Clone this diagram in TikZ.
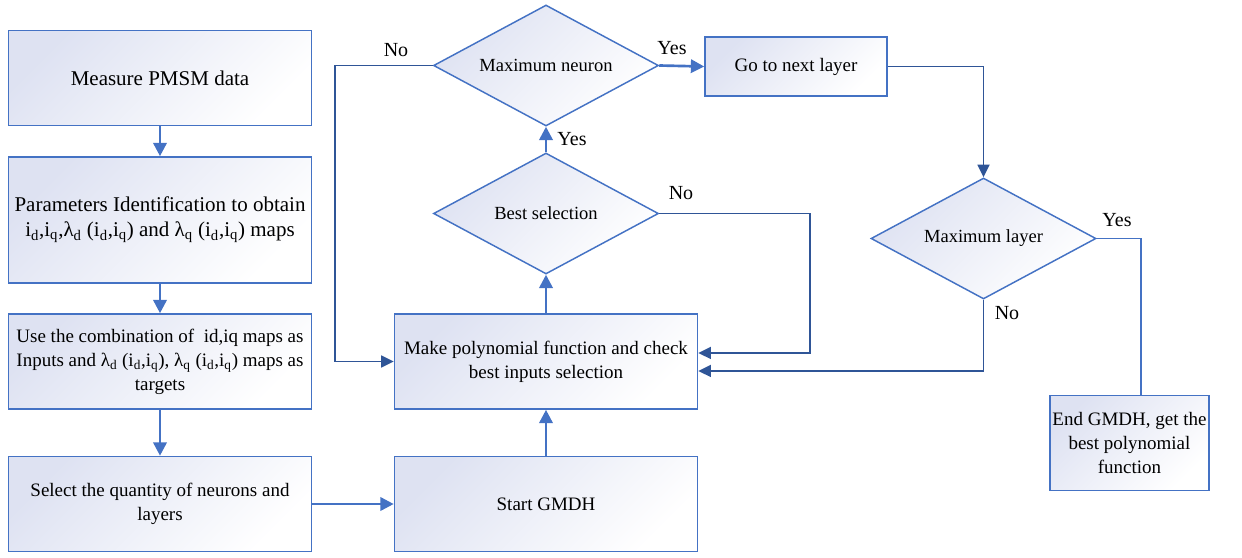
\documentclass[tikz,border=0pt]{standalone}
\usepackage{fontspec}
\setmainfont{Liberation Serif}
\usetikzlibrary{positioning}
\usetikzlibrary{arrows.meta}
\usetikzlibrary{shapes.geometric}
\definecolor{edge}{RGB}{68,114,196}
\definecolor{deep}{RGB}{47,85,151}
\definecolor{tint}{RGB}{222,226,242}
\newcommand{\sbs}[1]{\textsubscript{#1}}

\begin{document}
\begin{tikzpicture}[x=.75pt,y=-.75pt] % one unit = one pixel, y down
\tikzstyle{blk}=[draw=edge,line width=1.2pt,top color=tint,bottom color=white,shading angle=45,minimum width=227.25pt,minimum height=71.25pt,align=center,inner sep=2pt,font=\fontsize{14.25}{18}\selectfont]
\tikzstyle{dec}=[diamond,draw=edge,line width=1.1pt,top color=tint,bottom color=white,shading angle=45,minimum width=168.75pt,minimum height=90.75pt,aspect=1.86,inner sep=0pt,font=\fontsize{13.9}{16}\selectfont]
\tikzstyle{lbl}=[inner sep=0pt,font=\fontsize{15}{18}\selectfont]
\tikzstyle{flow}=[draw=edge,line width=2pt,-{Triangle[length=10pt,width=10pt]}]
\tikzstyle{back}=[draw=deep,line width=1.3pt,-{Triangle[length=9.5pt,width=9pt]}]

\useasboundingbox (0,0) rectangle (1242,557);

% left column
\draw (160,78) node[blk,font=\fontsize{15.75}{18.75}\selectfont] (meas) {Measure PMSM data}; % meas
\draw (160,220) node[blk,minimum height=94.5pt,font=\fontsize{15.75}{18.75}\selectfont] (para)
  {Parameters Identification to obtain\\
   i\sbs{d},i\sbs{q},λ\sbs{d} (i\sbs{d},i\sbs{q}) and λ\sbs{q} (i\sbs{d},i\sbs{q}) maps}; % para
\draw (160,361.5) node[blk] (comb)
  {Use the combination of ~id,iq maps as\\
   Inputs and λ\sbs{d} (i\sbs{d},i\sbs{q}), λ\sbs{q} (i\sbs{d},i\sbs{q}) maps as\\
   targets}; % comb
\draw (160,504) node[blk] (qty) {Select the quantity of neurons and\\layers}; % qty

% middle column
\draw (546,504) node[blk] (start) {Start GMDH}; % start
\draw (546,361.5) node[blk] (poly) {Make polynomial function and check\\best inputs selection}; % poly
\draw (546,213.5) node[dec] (best) {Best selection}; % best
\draw (546,65.5) node[dec] (maxn) {Maximum neuron}; % maxn

% right side
\draw (796,66.5) node[blk,minimum width=136.5pt,minimum height=44.25pt] (next) {Go to next layer}; % next
\draw (983.5,238.5) node[dec] (maxl) {Maximum layer}; % maxl
\draw (1129.5,443) node[blk,minimum width=116.25pt,minimum height=71.25pt] (endg)
  {End GMDH, get the\\best polynomial\\function}; % endg

% forward arrows
\draw[flow] (meas.south) -- (para.north);
\draw[flow] (para.south) -- (comb.north);
\draw[flow] (comb.south) -- (qty.north);
\draw[flow] (qty.east) -- (start.west);
\draw[flow] (start.north) -- (poly.south);
\draw[flow] (poly.north) -- (best.south);
\draw[flow] (best.north) -- (maxn.south);
\draw[flow] (maxn.east) -- (next.west);

% loops back
\draw[back] (next.east) -| (maxl.north);
\draw[back] (maxn.west) -- (335,65.5) |- (poly.west);
\draw[back] (best.east) -- (810,213.5) |- ([yshift=6.4pt]poly.east);
\draw[back] (maxl.south) |- ([yshift=-7.1pt]poly.east);
\draw[draw=edge,line width=1.3pt] (maxl.east) -| ([xshift=8.6pt]endg.north);

% yes / no
\draw (396,50) node[lbl] (no1) {No}; % no1
\draw (672,48) node[lbl] (yes1) {Yes}; % yes1
\draw (572,139) node[lbl] (yes2) {Yes}; % yes2
\draw (681,193) node[lbl] (no2) {No}; % no2
\draw (1117,220) node[lbl] (yes3) {Yes}; % yes3
\draw (1007,313) node[lbl] (no3) {No}; % no3
\end{tikzpicture}
\end{document}
